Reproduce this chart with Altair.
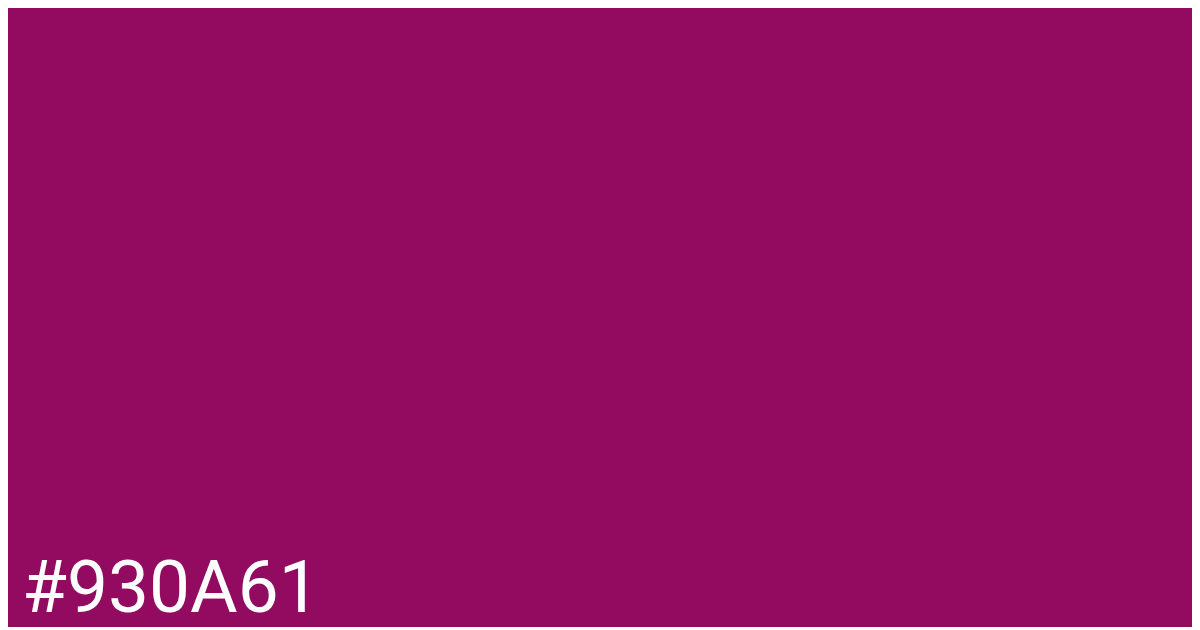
import altair as alt
import pandas as pd

labels = ["#930A61"]
colors = ["#930A61"]

df = pd.DataFrame({"label": labels, "color": colors})

txt = alt.Chart(df).mark_text(
    align="left", baseline="alphabetic", font="Roboto", fontSize=73, color="white"
).encode(
    text="label:N", x=alt.value(14), y=alt.value(604)
)

chart = txt.properties(
    width=1184, height=614, background=colors[0], padding=0
).configure_view(stroke=None, fill=colors[0])

chart.save("out.html", embed_options={"renderer": "svg", "actions": False})
